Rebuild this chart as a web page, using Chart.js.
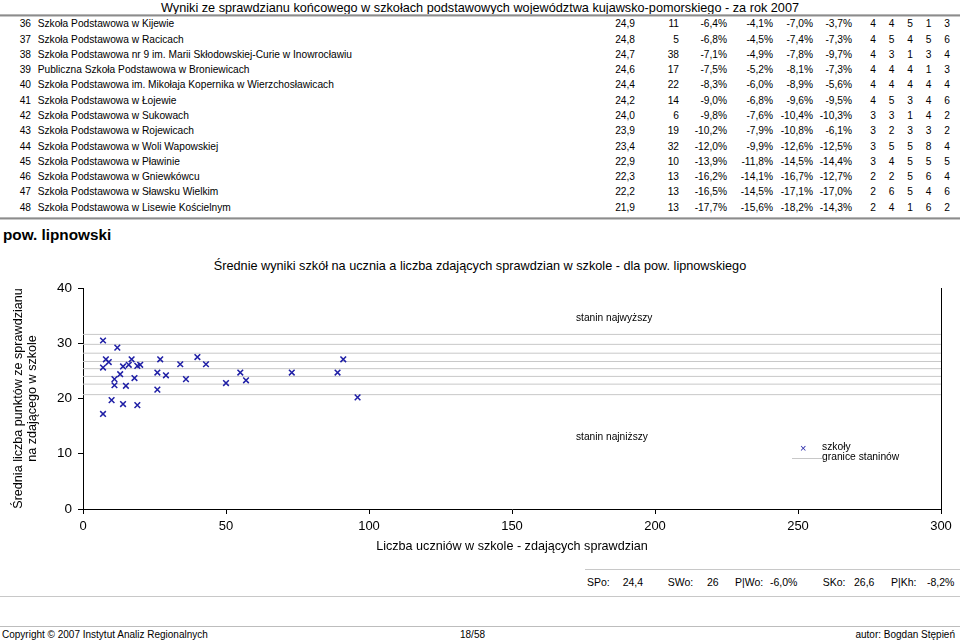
<!DOCTYPE html>
<html lang="pl">
<head>
<meta charset="utf-8">
<script src="https://cdn.jsdelivr.net/npm/chart.js@4/dist/chart.umd.min.js"></script>
<style>
  html, body { margin: 0; padding: 0; background: #fff; }
  body { width: 960px; height: 642px; position: relative; overflow: hidden;
         font-family: "Liberation Sans", Arial, Helvetica, sans-serif; color: #000; }
  .abs { position: absolute; white-space: nowrap; }
  .cell { position: absolute; white-space: nowrap; font-size: 10.2px; line-height: 14px; height: 14px; }
  .r { text-align: right; }
  .c { text-align: center; width: 20px; }
  .thick { position: absolute; left: 0; width: 960px; height: 3px; background: #8c8c8c;
           border-top: 1px solid #b5b5b5; border-bottom: 1px solid #c8c8c8; box-sizing: border-box; }
  .thin { position: absolute; height: 1px; background: #c8c8c8; }
</style>
</head>
<body>
<script>
// ---------- table data ----------
const rowNums = [36, 37, 38, 39, 40, 41, 42, 43, 44, 45, 46, 47, 48];
const schoolNames = [
  "Szkoła Podstawowa w Kijewie",
  "Szkoła Podstawowa w Racicach",
  "Szkoła Podstawowa nr 9 im. Marii Skłodowskiej-Curie w Inowrocławiu",
  "Publiczna Szkoła Podstawowa w Broniewicach",
  "Szkoła Podstawowa im. Mikołaja Kopernika w Wierzchosławicach",
  "Szkoła Podstawowa w Łojewie",
  "Szkoła Podstawowa w Sukowach",
  "Szkoła Podstawowa w Rojewicach",
  "Szkoła Podstawowa w Woli Wapowskiej",
  "Szkoła Podstawowa w Pławinie",
  "Szkoła Podstawowa w Gniewkówcu",
  "Szkoła Podstawowa w Sławsku Wielkim",
  "Szkoła Podstawowa w Lisewie Kościelnym"
];
const avgScores = ["24,9","24,8","24,7","24,6","24,4","24,2","24,0","23,9","23,4","22,9","22,3","22,2","21,9"];
const pupilCounts = ["11","5","38","17","22","14","6","19","32","10","13","13","13"];
const diffA = ["-6,4%","-6,8%","-7,1%","-7,5%","-8,3%","-9,0%","-9,8%","-10,2%","-12,0%","-13,9%","-16,2%","-16,5%","-17,7%"];
const diffB = ["-4,1%","-4,5%","-4,9%","-5,2%","-6,0%","-6,8%","-7,6%","-7,9%","-9,9%","-11,8%","-14,1%","-14,5%","-15,6%"];
const diffC = ["-7,0%","-7,4%","-7,8%","-8,1%","-8,9%","-9,6%","-10,4%","-10,8%","-12,6%","-14,5%","-16,7%","-17,1%","-18,2%"];
const diffD = ["-3,7%","-7,3%","-9,7%","-7,3%","-5,6%","-9,5%","-10,3%","-6,1%","-12,5%","-14,4%","-12,7%","-17,0%","-14,3%"];
const stanineCols = [
  [4,4,5,1,3],[4,5,4,5,6],[4,3,1,3,4],[4,4,4,1,3],[4,4,4,4,4],[4,5,3,4,6],
  [3,3,1,4,2],[3,2,3,3,2],[3,5,5,8,4],[3,4,5,5,5],[2,2,5,6,4],[2,6,5,4,6],[2,4,1,6,2]
];

// ---------- chart data ----------
const schoolPupils = [7, 12, 8, 9, 7, 17, 14, 16, 19, 20, 13, 11, 18, 11, 15, 27, 26, 29, 26, 34, 40, 43, 36, 10, 14, 19, 7, 55, 57, 50, 73, 89, 91, 96];
const schoolAvg    = [30.5, 29.2, 27.1, 26.6, 25.6, 27.1, 25.8, 26.1, 25.9, 26.1, 24.4, 23.5, 23.7, 22.4, 22.3, 27.1, 24.7, 24.2, 21.6, 26.2, 27.5, 26.2, 23.5, 19.7, 19.0, 18.8, 17.2, 24.7, 23.3, 22.8, 24.7, 24.7, 27.1, 20.2];
const stanineBounds = [20.7, 22.6, 24.0, 25.4, 26.7, 28.2, 29.8, 31.6];
const xTicksMax = 300;
const yTicksMax = 40;
</script>

<div class="abs" style="left:0;width:960px;top:0;text-align:center;font-size:12.7px;line-height:16px;">Wyniki ze sprawdzianu końcowego w szkołach podstawowych województwa kujawsko-pomorskiego - za rok 2007</div>
<div class="thick" style="top:14px;"></div>
<div id="rows"></div>
<div class="thick" style="top:217px;"></div>

<div class="abs" style="left:3px;top:226px;font-size:15.3px;font-weight:bold;line-height:18px;">pow. lipnowski</div>
<div class="abs" style="left:0;width:960px;top:259px;text-align:center;font-size:12.7px;line-height:15px;">Średnie wyniki szkół na ucznia a liczba zdających sprawdzian w szkole - dla pow. lipnowskiego</div>

<div style="position:absolute;left:0;top:250px;width:960px;height:310px;">
  <canvas id="chart" width="960" height="310"></canvas>
</div>

<div class="abs" style="left:576px;top:311px;font-size:10.2px;line-height:14px;">stanin najwyższy</div>
<div class="abs" style="left:576px;top:430px;font-size:10.2px;line-height:14px;">stanin najniższy</div>

<div class="abs" style="left:800px;top:441px;font-size:11px;line-height:14px;color:#1f1fa6;">×</div>
<div class="abs" style="left:822px;top:441px;font-size:10.3px;line-height:11px;">szkoły</div>
<div style="position:absolute;left:792px;top:458px;width:30px;height:1px;background:#c8c8c8;"></div>
<div class="abs" style="left:822px;top:451px;font-size:10.3px;line-height:11px;">granice staninów</div>

<div class="thin" style="left:585px;width:375px;top:569px;"></div>
<div id="stats"></div>
<div class="thin" style="left:0;width:960px;top:596px;"></div>

<div class="thin" style="left:0;width:960px;top:626px;background:#bdbdbd;"></div>
<div class="abs" style="left:2px;top:628px;font-size:10px;line-height:13px;">Copyright © 2007 Instytut Analiz Regionalnych</div>
<div class="abs" style="left:460px;top:628px;font-size:10px;line-height:13px;">18/58</div>
<div class="abs" style="right:5px;top:628px;font-size:10px;line-height:13px;">autor: Bogdan Stępień</div>

<script>
// ---------- build table ----------
(function(){
  const host = document.getElementById('rows');
  const rightCols = [
    {arr: avgScores, right: 635},
    {arr: pupilCounts, right: 679},
    {arr: diffA, right: 727},
    {arr: diffB, right: 773},
    {arr: diffC, right: 813},
    {arr: diffD, right: 852}
  ];
  const stCenters = [873, 891.7, 910, 928.5, 947];
  let html = '';
  for (let i = 0; i < rowNums.length; i++) {
    const top = (24.3 + i * 15.28 - 7).toFixed(2);
    html += `<div class="cell r" style="right:${960-31}px;top:${top}px;">${rowNums[i]}</div>`;
    html += `<div class="cell" style="left:37.7px;top:${top}px;">${schoolNames[i]}</div>`;
    rightCols.forEach(c => {
      html += `<div class="cell r" style="right:${960-c.right}px;top:${top}px;">${c.arr[i]}</div>`;
    });
    stanineCols[i].forEach((v, k) => {
      html += `<div class="cell c" style="left:${stCenters[k]-10}px;top:${top}px;">${v}</div>`;
    });
  }
  host.innerHTML = html;

  const stats = [
    ["SPo:", 587], ["24,4", 622.7], ["SWo:", 667.7], ["26", 707], ["P|Wo:", 735], ["-6,0%", 770],
    ["SKo:", 822.7], ["26,6", 854], ["P|Kh:", 891], ["-8,2%", 927]
  ];
  document.getElementById('stats').innerHTML = stats.map(s =>
    `<div class="abs" style="left:${s[1]}px;top:575px;font-size:10.5px;line-height:14px;">${s[0]}</div>`).join('');
})();

// ---------- chart ----------
const FONT = '"Liberation Sans", Arial, Helvetica, sans-serif';
const rightBorder = {
  id: 'rightBorder',
  afterDraw(chart) {
    const {ctx, chartArea: a} = chart;
    ctx.save();
    ctx.strokeStyle = '#000';
    ctx.lineWidth = 1;
    ctx.beginPath();
    const x = Math.round(a.right) + 0.5;
    ctx.moveTo(x, a.top);
    ctx.lineTo(x, a.bottom);
    ctx.stroke();
    ctx.restore();
  }
};

const datasets = [{
  type: 'scatter',
  label: 'szkoły',
  data: schoolPupils.map((x, i) => ({x: x, y: schoolAvg[i]})),
  pointStyle: 'crossRot',
  pointRadius: 4,
  pointBorderWidth: 1.5,
  borderColor: '#1f1fa6',
  backgroundColor: '#1f1fa6',
  order: 0
}];
stanineBounds.forEach((v, i) => {
  datasets.push({
    type: 'line',
    label: i === 0 ? 'granice staninów' : '',
    data: [{x: 0, y: v}, {x: xTicksMax, y: v}],
    borderColor: '#c8c8c8',
    borderWidth: 1,
    pointRadius: 0,
    fill: false,
    order: 1
  });
});

new Chart(document.getElementById('chart'), {
  data: { datasets },
  plugins: [rightBorder],
  options: {
    responsive: false,
    animation: false,
    layout: { padding: { top: 38, right: 19, bottom: 0, left: 0 } },
    plugins: { legend: { display: false }, tooltip: { enabled: false }, title: { display: false } },
    scales: {
      x: {
        type: 'linear',
        min: 0, max: xTicksMax,
        ticks: { stepSize: 50, color: '#000', font: { family: FONT, size: 13 }, padding: 5, maxRotation: 0 },
        grid: { display: true, drawOnChartArea: false, drawTicks: true, tickLength: 5, color: '#000' },
        border: { display: true, color: '#000', width: 1 },
        title: { display: true, text: 'Liczba uczniów w szkole - zdających sprawdzian', color: '#000',
                 font: { family: FONT, size: 12.6 }, padding: { top: 0, bottom: 6 } },
        afterFit(scale) { scale.height = 51; }
      },
      y: {
        type: 'linear',
        min: 0, max: yTicksMax,
        ticks: { stepSize: 10, color: '#000', font: { family: FONT, size: 13.5 }, padding: 6 },
        grid: { display: true, drawOnChartArea: false, drawTicks: true, tickLength: 5, color: '#000' },
        border: { display: true, color: '#000', width: 1 },
        title: { display: true, text: ['Średnia liczba punktów ze sprawdzianu', 'na zdającego w szkole'], color: '#000',
                 font: { family: FONT, size: 12.6, lineHeight: 1.1 }, padding: { top: 12, bottom: 0 } },
        afterFit(scale) { scale.width = 83; }
      }
    }
  }
});
</script>
</body>
</html>
